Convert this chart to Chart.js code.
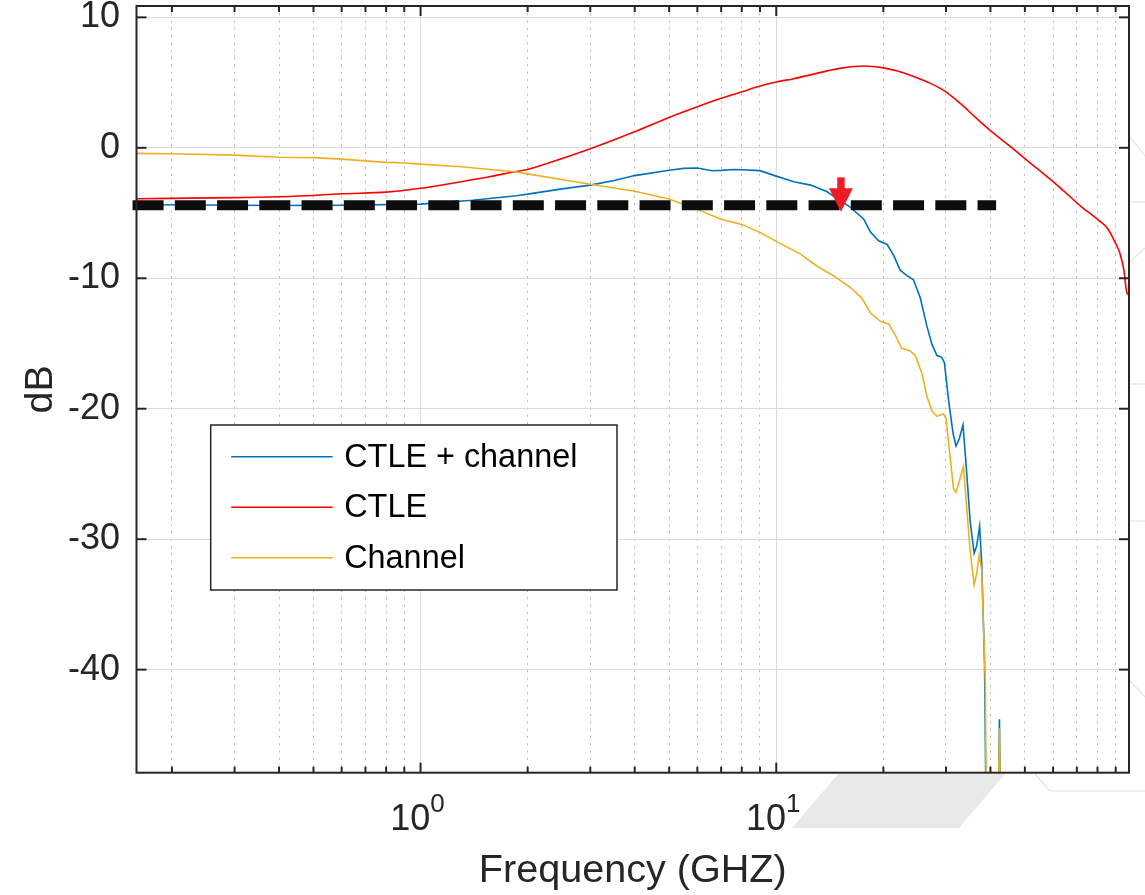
<!DOCTYPE html>
<html>
<head>
<meta charset="utf-8">
<script src="https://cdn.jsdelivr.net/npm/chart.js@4.4.0/dist/chart.umd.min.js"></script>
<style>
  html, body { margin: 0; padding: 0; background: #fff; }
  #wrap { width: 1145px; height: 895px; }
</style>
</head>
<body>
<div id="wrap"><canvas id="chart" width="1145" height="895"></canvas></div>
<script>
// CTLE + channel (blue)
const freqCombined = [0.159, 0.25, 0.4, 0.6, 1.0, 1.4, 1.86, 2.0, 2.5, 3.0, 3.5, 4.0, 5.0, 5.5, 6.0, 6.6, 7.0, 7.6, 8.0, 9.0,
  10, 11.2, 12.5, 13.9, 14.8, 16.1, 17.6, 18.4, 19.4, 20.5, 21.4, 22.3, 23.3, 24.3, 25.4, 26.5, 27.4, 28.3, 29.2, 29.7,
  30.5, 31.4, 32.0, 32.7, 33.5, 34.2, 35.1, 36.0, 36.6, 37.3, 37.8, 38.5, 39.2, 41.7, 42.4, 43.1];
const dbCombined = [-4.37, -4.38, -4.42, -4.4, -4.32, -4.02, -3.68, -3.55, -3.15, -2.86, -2.5, -2.13, -1.72, -1.58, -1.55, -1.76, -1.73, -1.66, -1.68, -1.75,
  -2.17, -2.6, -2.86, -3.37, -3.88, -4.52, -5.45, -6.45, -7.13, -7.41, -8.26, -9.38, -9.8, -10.12, -11.5, -13.65, -15.07, -15.92, -16.06, -16.48,
  -19.32, -21.87, -22.86, -22.3, -21.24, -24.42, -28.68, -31.08, -30.51, -29.01, -31.79, -39.44, -60, -60, -43.8, -60];

// CTLE (red)
const freqCtle = [0.159, 0.3, 0.5, 0.6, 0.8, 1.0, 1.3, 1.56, 1.86, 2.0, 2.3, 3.0, 4.0, 5.0, 6.0, 7.0, 8.0, 9.0,
  10, 11.2, 12.4, 13.8, 15.4, 17.6, 20, 21.8, 23.8, 26.5, 29.5, 32.9, 36.6, 40.9, 45, 50.6, 62.4, 72.1, 80.5, 85.4,
  90.6, 92.5, 94.9, 96.6, 98.1];
const dbCtle = [-3.9, -3.82, -3.65, -3.52, -3.4, -3.1, -2.6, -2.22, -1.81, -1.66, -1.15, -0.07, 1.23, 2.33, 3.14, 3.79, 4.29, 4.73,
  5.05, 5.3, 5.57, 5.88, 6.13, 6.27, 6.13, 5.9, 5.57, 5.06, 4.42, 3.4, 2.25, 1.1, 0.2, -0.94, -2.99, -4.52, -5.54, -6.18,
  -7.5, -8.09, -9.37, -11.03, -11.29];

// Channel (orange)
const freqChannel = [0.159, 0.2, 0.3, 0.4, 0.5, 0.6, 0.7, 0.8, 0.9, 1.0, 1.3, 1.86, 2.0, 3.0, 4.0, 5.0, 6.0, 7.0, 8.0, 9.0,
  10, 11.7, 13.0, 14.5, 16.1, 17.4, 18.4, 19.6, 20.7, 21.6, 22.5, 23.8, 24.6, 25.7, 26.5, 27.4, 28.3, 29.5, 30.0, 30.7,
  31.5, 32.0, 32.7, 33.6, 34.3, 35.1, 36.0, 36.6, 37.2, 37.8, 38.7, 39.2, 41.7, 42.4, 43.1];
const dbChannel = [-0.43, -0.46, -0.56, -0.72, -0.75, -0.87, -1.0, -1.12, -1.17, -1.25, -1.45, -1.86, -2.0, -2.8, -3.33, -3.93, -4.72, -5.47, -5.87, -6.48,
  -7.17, -8.15, -9.06, -9.82, -10.67, -11.52, -12.65, -13.3, -13.5, -14.35, -15.35, -15.57, -15.92, -17.33, -19.03, -20.17, -20.59, -20.39, -20.73, -23.29,
  -26.12, -26.41, -25.56, -24.42, -27.54, -30.94, -33.49, -32.64, -31.22, -32.36, -40.87, -60, -60, -44.5, -60];

// dashed threshold line and arrow marker
const freqThreshold = [0.155, 41.5];
const dbThreshold = [-4.4, -4.4];
const arrowFreq = 15.2;
const arrowFromDb = -2.27;
const arrowToDb = -4.9;

// axes
const xMin = 0.159, xMax = 98.1;
const yMin = -47.9, yMax = 10.87;
const xMajorTicks = [1, 10];
const xMinorTicks = [0.2, 0.3, 0.4, 0.5, 0.6, 0.7, 0.8, 0.9, 2, 3, 4, 5, 6, 7, 8, 9, 20, 30, 40, 50, 60, 70, 80, 90];
const yTicks = [-40, -30, -20, -10, 0, 10];

const FONT = '"Liberation Sans", Arial, Helvetica, sans-serif';
const AXIS = '#262626';

const zip = (xs, ys) => xs.map((x, i) => ({ x, y: ys[i] }));
const noPad = s => { s.paddingTop = 0; s.paddingBottom = 0; s.paddingLeft = 0; s.paddingRight = 0; };

const framePlugin = {
  id: 'frame',
  beforeDraw(chart) {
    const ctx = chart.ctx;
    ctx.save();
    ctx.fillStyle = '#fff';
    ctx.fillRect(0, 0, chart.width, chart.height);
    // faint background artwork behind the figure
    ctx.fillStyle = '#e8eaea';
    ctx.beginPath();
    ctx.moveTo(838, 774); ctx.lineTo(1005, 774); ctx.lineTo(959, 828); ctx.lineTo(792, 828);
    ctx.closePath();
    ctx.fill();
    ctx.strokeStyle = '#e4e4e4';
    ctx.lineWidth = 1.2;
    const segs = [[1035, 774, 1050, 791], [1050, 791, 1145, 791], [1129, 136, 1145, 156], [1129, 202, 1145, 202],
      [1129, 263, 1145, 248], [1129, 384, 1145, 384], [1129, 521, 1145, 521], [1129, 680, 1145, 697]];
    segs.forEach(s => { ctx.beginPath(); ctx.moveTo(s[0], s[1]); ctx.lineTo(s[2], s[3]); ctx.stroke(); });
    ctx.restore();
  },
  afterDatasetsDraw(chart) {
    const ctx = chart.ctx;
    const { left, right, top, bottom } = chart.chartArea;
    const xs = chart.scales.x, ys = chart.scales.y;
    ctx.save();

    // red arrow
    const ax = xs.getPixelForValue(arrowFreq);
    const a0 = ys.getPixelForValue(arrowFromDb);
    const a1 = ys.getPixelForValue(arrowToDb);
    ctx.fillStyle = '#ec1c24';
    ctx.fillRect(ax - 3.7, a0, 7.4, a1 - a0 - 22);
    ctx.beginPath();
    ctx.moveTo(ax - 12, a1 - 23.5);
    ctx.lineTo(ax + 12, a1 - 23.5);
    ctx.lineTo(ax, a1);
    ctx.closePath();
    ctx.fill();

    // box and inward ticks
    ctx.strokeStyle = AXIS;
    ctx.lineWidth = 2;
    const seg = (x1, y1, x2, y2) => { ctx.beginPath(); ctx.moveTo(x1, y1); ctx.lineTo(x2, y2); ctx.stroke(); };
    xMajorTicks.forEach(v => { const p = xs.getPixelForValue(v); seg(p, bottom, p, bottom - 10); seg(p, top, p, top + 10); });
    xMinorTicks.forEach(v => { const p = xs.getPixelForValue(v); seg(p, bottom, p, bottom - 6); seg(p, top, p, top + 6); });
    yTicks.forEach(v => { const p = ys.getPixelForValue(v); seg(left, p, left + 10, p); seg(right, p, right - 10, p); });
    ctx.strokeRect(left, top, right - left, bottom - top);

    // x tick labels as 10 with superscript exponent
    ctx.fillStyle = AXIS;
    ctx.textBaseline = 'alphabetic';
    ctx.textAlign = 'left';
    xMajorTicks.forEach(v => {
      const p = xs.getPixelForValue(v);
      const exp = String(Math.round(Math.log10(v)));
      ctx.font = '36px ' + FONT;
      const wb = ctx.measureText('10').width;
      ctx.font = '26px ' + FONT;
      const we = ctx.measureText(exp).width;
      const start = p - (wb + we) / 2 - 3;
      ctx.font = '36px ' + FONT;
      ctx.fillText('10', start, bottom + 57.3);
      ctx.font = '26px ' + FONT;
      ctx.fillText(exp, start + wb, bottom + 39.5);
    });

    // legend
    const lx = left + 74.2, ly = top + 419, lw = 406.3, lh = 165;
    ctx.fillStyle = '#fff';
    ctx.fillRect(lx, ly, lw, lh);
    ctx.lineWidth = 1.5;
    ctx.strokeStyle = AXIS;
    ctx.strokeRect(lx, ly, lw, lh);
    ctx.font = '32.4px ' + FONT;
    ctx.textBaseline = 'middle';
    const entries = chart.data.datasets.filter(d => d.inLegend);
    entries.forEach((d, i) => {
      const yy = ly + 31.7 + i * 50.5;
      ctx.strokeStyle = d.borderColor;
      ctx.lineWidth = 1.6;
      seg(lx + 20.5, yy, lx + 122, yy);
      ctx.fillStyle = '#000';
      ctx.fillText(d.label, lx + 133.5, yy + 1);
    });
    ctx.restore();
  }
};

new Chart(document.getElementById('chart'), {
  type: 'scatter',
  data: {
    datasets: [
      { label: 'CTLE + channel', inLegend: true, data: zip(freqCombined, dbCombined), showLine: true,
        borderColor: '#0072bd', borderWidth: 1.6, pointRadius: 0, order: 3 },
      { label: 'CTLE', inLegend: true, data: zip(freqCtle, dbCtle), showLine: true,
        borderColor: '#ff0000', borderWidth: 1.6, pointRadius: 0, cubicInterpolationMode: 'monotone', order: 2 },
      { label: 'Channel', inLegend: true, data: zip(freqChannel, dbChannel), showLine: true,
        borderColor: '#edb120', borderWidth: 1.6, pointRadius: 0, order: 1 },
      { label: 'threshold', inLegend: false, data: zip(freqThreshold, dbThreshold), showLine: true,
        borderColor: '#0d0d0d', borderWidth: 10, borderDash: [31, 11.25], borderCapStyle: 'butt',
        pointRadius: 0, clip: false, order: 0 }
    ]
  },
  options: {
    responsive: false,
    animation: false,
    events: [],
    layout: { padding: { top: 6, right: 16, left: 0, bottom: 0 } },
    plugins: { legend: { display: false }, tooltip: { enabled: false } },
    scales: {
      x: {
        type: 'logarithmic', position: 'bottom', min: xMin, max: xMax,
        afterBuildTicks: s => { s.ticks = xMajorTicks.map(v => ({ value: v, major: true })); },
        afterFit: s => { s.height = 122.3; noPad(s); },
        grid: { color: '#dcdcdc', lineWidth: 1, drawTicks: false },
        border: { display: false },
        ticks: { display: false },
        title: { display: true, text: 'Frequency (GHZ)', color: AXIS,
          font: { family: FONT, size: 39.6 }, padding: { top: 0, bottom: 0 } }
      },
      xMinor: {
        type: 'logarithmic', position: 'bottom', min: xMin, max: xMax,
        afterBuildTicks: s => { s.ticks = xMinorTicks.map(v => ({ value: v })); },
        afterFit: s => { s.height = 0; noPad(s); },
        grid: { color: 'rgba(0,0,0,0.28)', lineWidth: 1, drawTicks: false },
        border: { display: false, dash: [2, 5.3] },
        ticks: { display: false }
      },
      y: {
        type: 'linear', min: yMin, max: yMax,
        afterBuildTicks: s => { s.ticks = yTicks.map(v => ({ value: v })); },
        afterFit: s => { s.width = 136.5; noPad(s); },
        grid: { color: '#dcdcdc', lineWidth: 1, drawTicks: false },
        border: { display: false },
        ticks: { color: AXIS, font: { family: FONT, size: 36 }, padding: 16.5, callback: v => String(v) },
        title: { display: true, text: 'dB', color: AXIS,
          font: { family: FONT, size: 39.6 }, padding: { top: 17, bottom: 0 } }
      }
    }
  },
  plugins: [framePlugin]
});
</script>
</body>
</html>
